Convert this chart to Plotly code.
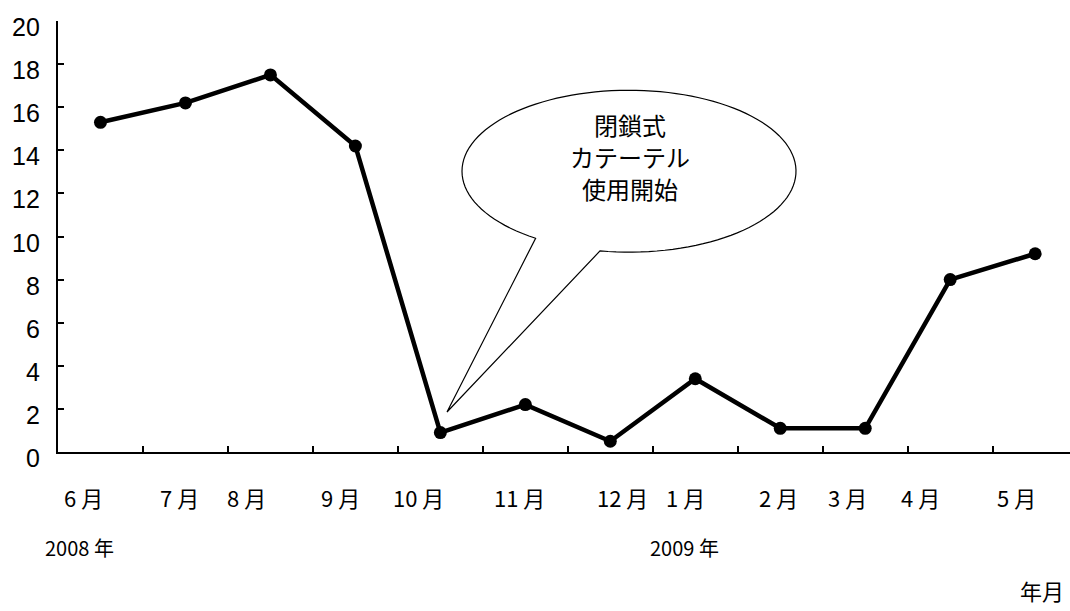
import math
import plotly.graph_objects as go

# monthly values, June 2008 - May 2009
months = ["6 月", "7 月", "8 月", "9 月", "10 月", "11 月",
          "12 月", "1 月", "2 月", "3 月", "4 月", "5 月"]
values = [15.3, 16.2, 17.5, 14.2, 0.9, 2.2, 0.5, 3.4, 1.1, 1.1, 8.0, 9.2]
y_ticks = [0, 2, 4, 6, 8, 10, 12, 14, 16, 18, 20]
years = ["2008 年", "2009 年"]
callout_text = ["閉鎖式", "カテーテル", "使用開始"]

# plot-area geometry (pixels)
W, H = 1070, 611
LEFT, TOP, BOTTOM_Y = 58, 20.7, 452
UX = 84.97                       # pixels per category
UY = (BOTTOM_Y - TOP) / 20.0     # pixels per unit
XMIN = -0.5
XMAX = XMIN + (W - LEFT) / UX


def dx(p):
    return XMIN + (p - LEFT) / UX


def dy(p):
    return (BOTTOM_Y - p) / UY


def px_paper(p):
    return (p - LEFT) / (W - LEFT)


def py_paper(p):
    return (BOTTOM_Y - p) / (BOTTOM_Y - TOP)


JP = "Liberation Sans Narrow, Arial Narrow, Noto Sans CJK JP, sans-serif"
JP2 = "Noto Sans CJK JP, sans-serif"

idx = list(range(len(months)))

fig = go.Figure()
fig.add_trace(go.Scatter(
    x=idx, y=values, mode="lines+markers",
    line=dict(color="black", width=4.5),
    marker=dict(color="black", size=13),
    hoverinfo="skip", showlegend=False,
))

annotations = []

# y tick labels, sitting a little below each tick
for v in y_ticks:
    annotations.append(dict(
        x=0, xref="paper", y=v, yref="y", text=str(v), showarrow=False,
        xanchor="right", yanchor="middle", xshift=-16, yshift=-6,
        font=dict(family="Liberation Sans, Arial, sans-serif", size=25, color="black"),
    ))

# month labels under the axis
month_label_px = [83, 179, 246, 340, 418, 519, 622, 685, 778, 847, 920, 1016]
for text, p in zip(months, month_label_px):
    annotations.append(dict(
        x=px_paper(p), xref="paper", y=py_paper(497), yref="paper",
        text=text, showarrow=False, xanchor="center", yanchor="middle",
        font=dict(family=JP, size=22, color="black"),
    ))

# year labels
for text, p in zip(years, [79, 684]):
    annotations.append(dict(
        x=px_paper(p), xref="paper", y=py_paper(548), yref="paper",
        text=text, showarrow=False, xanchor="center", yanchor="middle",
        font=dict(family=JP, size=20, color="black"),
    ))

# axis caption at the lower right
annotations.append(dict(
    x=px_paper(1066), xref="paper", y=py_paper(608), yref="paper",
    text="年月", showarrow=False, xanchor="right", yanchor="bottom",
    font=dict(family=JP2, size=22, color="black"),
))

# callout text, one line per annotation
for text, p in zip(callout_text, [124, 156, 188]):
    annotations.append(dict(
        x=dx(630), xref="x", y=dy(p), yref="y", text=text,
        showarrow=False, xanchor="center", yanchor="middle",
        font=dict(family=JP2, size=24, color="black"),
    ))

# speech-bubble outline: elliptical body with a tail pointing at October
cx, cy, rx, ry = 629, 171, 167, 81
tip = (447, 412)
pts = []
a0, a1 = -100.0, 236.0
n = 120
for k in range(n + 1):
    t = math.radians(a0 + (a1 - a0) * k / n)
    pts.append((cx + rx * math.cos(t), cy - ry * math.sin(t)))
pts.append(tip)
path = "M " + " L ".join(f"{dx(px):.4f},{dy(py):.4f}" for px, py in pts) + " Z"

shapes = [dict(type="path", path=path, xref="x", yref="y",
               line=dict(color="black", width=1.2), fillcolor="white",
               layer="above")]

fig.update_layout(
    width=W, height=H,
    margin=dict(l=LEFT, r=0, t=TOP, b=H - BOTTOM_Y),
    plot_bgcolor="white", paper_bgcolor="white",
    annotations=annotations, shapes=shapes,
    xaxis=dict(
        range=[XMIN, XMAX], showgrid=False, zeroline=False,
        showline=True, linecolor="black", linewidth=2,
        tickmode="array", tickvals=[i + 0.5 for i in range(11)],
        ticks="inside", ticklen=6, tickwidth=1.5, tickcolor="black",
        showticklabels=False, fixedrange=True,
    ),
    yaxis=dict(
        range=[0, 20], showgrid=False, zeroline=False,
        showline=True, linecolor="black", linewidth=2,
        tickmode="array", tickvals=y_ticks,
        ticks="inside", ticklen=6, tickwidth=1.5, tickcolor="black",
        showticklabels=False, fixedrange=True,
    ),
)

fig.write_html("out.html", config={"displayModeBar": False})
